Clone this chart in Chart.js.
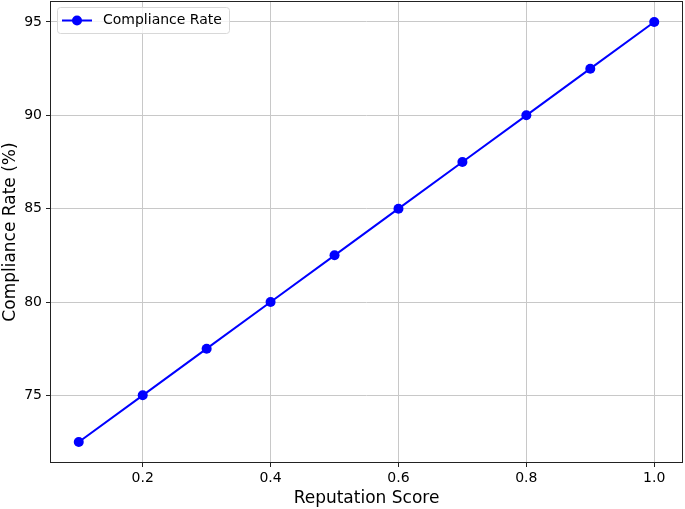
<!DOCTYPE html>
<html>
<head>
<meta charset="utf-8">
<script src="https://cdn.jsdelivr.net/npm/chart.js@4.4.0/dist/chart.umd.min.js"></script>
<style>
  html, body { margin: 0; padding: 0; background: #fff; }
  #wrap { width: 685px; height: 509px; }
</style>
</head>
<body>
<div id="wrap"><canvas id="chart" width="685" height="509"></canvas></div>
<script>
// data
const reputationScores = [0.1, 0.2, 0.3, 0.4, 0.5, 0.6, 0.7, 0.8, 0.9, 1.0];
const complianceRates = [72.5, 75, 77.5, 80, 82.5, 85, 87.5, 90, 92.5, 95];
const xTicks = [0.2, 0.4, 0.6, 0.8, 1.0];
const yTicks = [75, 80, 85, 90, 95];

const FONT = "'DejaVu Sans', sans-serif";

// frame around the plot + legend box inside the axes (matplotlib style)
const frameAndLegend = {
    id: 'frameAndLegend',
    afterDraw(chart) {
        const ctx = chart.ctx;
        const a = chart.chartArea;
        ctx.save();
        ctx.strokeStyle = '#222';
        ctx.lineWidth = 1;
        ctx.strokeRect(a.left + 0.5, a.top + 0.5, a.right - a.left - 1, a.bottom - a.top - 1);

        // legend
        const ds = chart.data.datasets[0];
        const bx = a.left + 7, by = a.top + 6, bw = 172, bh = 26;
        ctx.fillStyle = 'rgba(255,255,255,0.8)';
        ctx.strokeStyle = '#d8d8d8';
        ctx.beginPath();
        ctx.roundRect(bx + 0.5, by + 0.5, bw, bh, 3);
        ctx.fill();
        ctx.stroke();
        const ly = by + bh / 2 + 0.5;
        ctx.strokeStyle = ds.borderColor;
        ctx.lineWidth = 2;
        ctx.beginPath();
        ctx.moveTo(bx + 5, ly);
        ctx.lineTo(bx + 35, ly);
        ctx.stroke();
        ctx.fillStyle = ds.borderColor;
        ctx.beginPath();
        ctx.arc(bx + 20, ly, 5, 0, Math.PI * 2);
        ctx.fill();
        ctx.fillStyle = '#000';
        ctx.font = '14px ' + FONT;
        ctx.textBaseline = 'middle';
        ctx.fillText(ds.label, bx + 46, ly);
        ctx.restore();
    }
};

new Chart(document.getElementById('chart').getContext('2d'), {
    type: 'line',
    data: {
        datasets: [{
            label: 'Compliance Rate',
            data: reputationScores.map((x, i) => ({ x: x, y: complianceRates[i] })),
            borderColor: '#0000ff',
            backgroundColor: '#0000ff',
            borderWidth: 2,
            pointRadius: 5,
            pointBorderWidth: 0,
            pointHoverRadius: 5,
            tension: 0
        }]
    },
    options: {
        responsive: false,
        animation: false,
        layout: { autoPadding: false, padding: { top: 1, right: 2, left: 0, bottom: 0 } },
        plugins: {
            legend: { display: false },
            tooltip: { enabled: false }
        },
        scales: {
            x: {
                type: 'linear',
                min: 0.055,
                max: 1.045,
                afterBuildTicks: axis => { axis.ticks = xTicks.map(v => ({ value: v })); },
                afterFit: axis => {
                    axis.height = 46;
                    axis.paddingLeft = 0;
                    axis.paddingRight = 0;
                },
                grid: { color: '#c8c8c8', lineWidth: 1, tickLength: 4, tickColor: '#222', drawTicks: true },
                border: { display: false },
                ticks: {
                    color: '#000',
                    font: { family: FONT, size: 14 },
                    padding: 3,
                    maxRotation: 0,
                    callback: v => v.toFixed(1)
                },
                title: {
                    display: true,
                    text: 'Reputation Score',
                    color: '#000',
                    font: { family: FONT, size: 17 },
                    padding: { top: 1, bottom: 0 }
                }
            },
            y: {
                type: 'linear',
                min: 71.375,
                max: 96.125,
                afterBuildTicks: axis => { axis.ticks = yTicks.map(v => ({ value: v })); },
                afterFit: axis => {
                    axis.width = 50;
                    axis.paddingTop = 0;
                    axis.paddingBottom = 0;
                },
                grid: { color: '#c8c8c8', lineWidth: 1, tickLength: 4, tickColor: '#222', drawTicks: true },
                border: { display: false },
                ticks: {
                    color: '#000',
                    font: { family: FONT, size: 14 },
                    padding: 4,
                    callback: v => String(v)
                },
                title: {
                    display: true,
                    text: 'Compliance Rate (%)',
                    color: '#000',
                    font: { family: FONT, size: 17 },
                    padding: { top: 0, bottom: 3 }
                }
            }
        }
    },
    plugins: [frameAndLegend]
});
</script>
</body>
</html>
